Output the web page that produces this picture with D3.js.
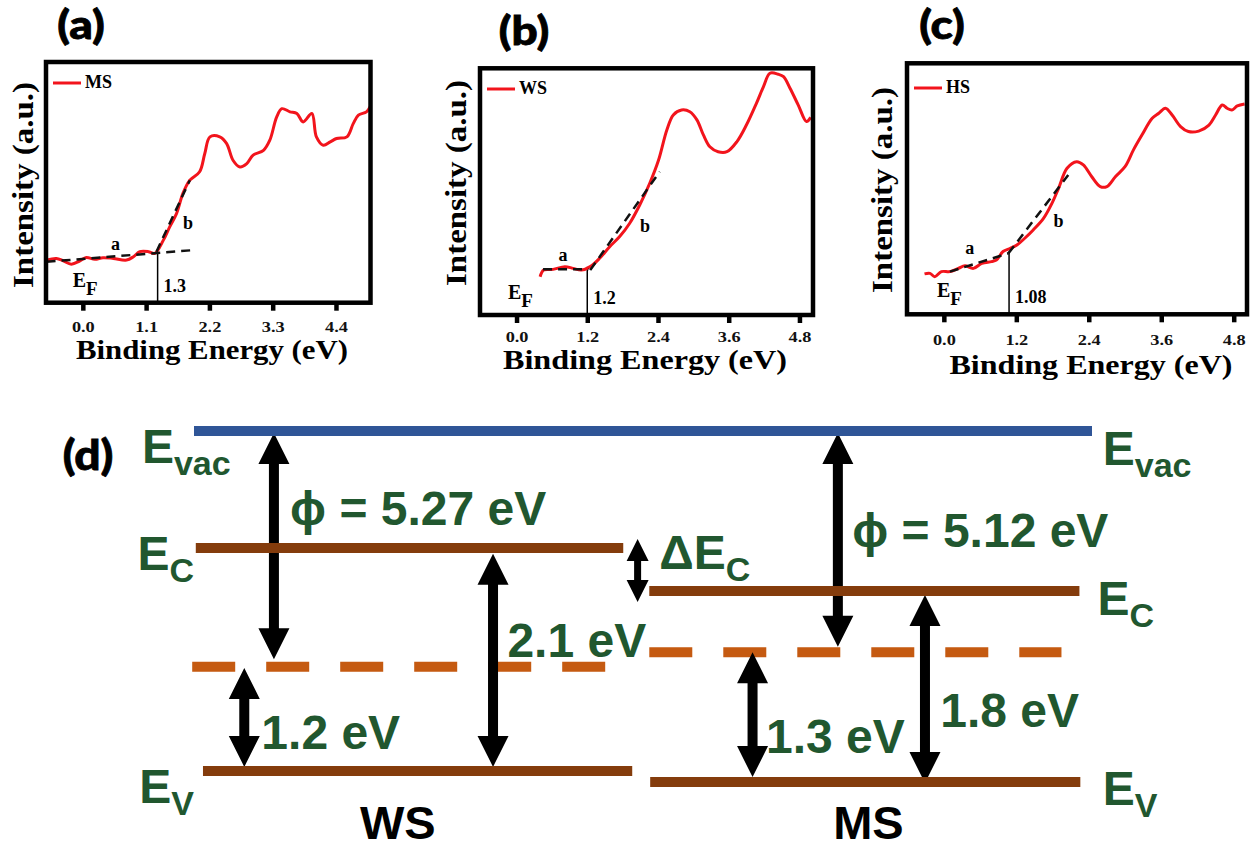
<!DOCTYPE html>
<html>
<head>
<meta charset="utf-8">
<script src="https://cdn.jsdelivr.net/npm/d3@7"></script>
<style>
body { margin: 0; background: #fff; }
svg { display: block; }
</style>
</head>
<body>
<svg id="fig" width="1257" height="849"></svg>
<script>
// ---- UPS spectra (energy in eV, intensity in a.u. 0-100 of the frame) ----
var ticksA = [0.0, 1.1, 2.2, 3.3, 4.4];
var ticksBC = [0.0, 1.2, 2.4, 3.6, 4.8];

var msEnergy = [-0.63,-0.46,-0.34,-0.20,-0.05,0.06,0.21,0.35,0.53,0.76,0.88,0.99,1.14,1.25,1.40,1.51,1.63,1.74,1.86,2.03,2.12,2.21,2.38,2.50,2.61,2.73,2.85,2.96,3.14,3.25,3.37,3.46,3.60,3.72,3.83,3.98,4.06,4.18,4.30,4.41,4.59,4.70,4.79,4.93,5.00];
var msIntensity = [17.7,18.4,17.4,16.0,17.4,18.8,18.0,18.7,18.4,17.7,19.1,21.2,21.2,20.5,26.0,31.5,37.1,45.4,50.9,54.4,62.0,68.9,68.9,66.1,59.2,56.4,57.8,61.3,63.3,67.5,77.2,80.6,79.3,78.6,75.1,78.6,68.9,65.4,66.8,68.2,68.9,74.4,77.9,79.3,81.6];

var wsEnergy = [0.40,0.46,0.62,0.82,0.96,1.10,1.25,1.41,1.58,1.75,1.92,2.09,2.26,2.41,2.55,2.66,2.80,2.94,3.06,3.17,3.28,3.42,3.57,3.74,3.90,4.07,4.19,4.30,4.44,4.53,4.64,4.78,4.92,4.99];
var wsIntensity = [15.5,18.2,18.5,19.6,18.9,18.2,19.6,23.0,27.7,31.8,37.2,44.6,53.4,62.8,75.0,81.1,83.1,82.4,79.1,73.0,68.2,66.2,66.2,70.3,77.0,85.8,92.6,98.0,97.6,96.6,91.9,85.1,78.4,80.1];

var hsEnergy = [-0.32,-0.23,-0.15,-0.04,0.10,0.24,0.35,0.49,0.63,0.79,0.87,0.98,1.10,1.21,1.34,1.48,1.65,1.79,1.90,2.04,2.20,2.31,2.45,2.59,2.70,2.84,3.00,3.14,3.28,3.45,3.56,3.67,3.78,3.92,4.05,4.22,4.39,4.50,4.61,4.69,4.77,4.86,4.98];
var hsIntensity = [16.1,16.3,15.0,17.0,17.0,18.3,19.3,18.3,20.3,21.0,21.6,25.0,26.3,27.6,30.3,33.6,38.2,44.2,50.2,58.2,60.8,59.5,54.8,50.9,50.9,54.8,58.8,65.5,71.4,78.1,80.1,82.1,79.4,74.8,72.8,73.0,75.4,79.4,83.4,82.1,81.4,83.0,83.8];

// linear fits (a = background, b = leading edge), [energy, intensity]
var msFitA = [[-0.63, 17.0], [1.95, 21.9]];
var msFitB = [[1.28, 21.2], [1.86, 50.9]];
var wsFitA = [[0.45, 18.5], [1.22, 18.5]];
var wsFitB = [[1.25, 18.2], [2.43, 58.1]];
var hsFitA = [[0.10, 17.0], [1.07, 24.3]];
var hsFitB = [[1.07, 24.3], [2.06, 55.5]];

var seriesNames = ["MS", "WS", "HS"];
var onsetValues = [1.3, 1.2, 1.08];
var onsetLabels = ["1.3", "1.2", "1.08"];
var onsetHeights = [21.0, 19.5, 25.0];

// ---- band diagram (schematic units: x 0-100 along the figure, y 0-100 down from E_vac) ----
var levelNames = ["E_vac", "WS E_C", "WS E_F", "WS E_V", "MS E_C", "MS E_F", "MS E_V"];
var levelDepth = [0, 33.3, 67.2, 96.9, 45.6, 63.0, 100];
var levelFrom = [0, 0.2, -0.2, 1.0, 50.7, 50.7, 50.8];
var levelTo = [100, 47.8, 45.9, 48.8, 98.6, 96.6, 98.7];
var levelKind = ["vac", "band", "fermi", "band", "band", "fermi", "band"];

var gapLabels = ["\u03D5 = 5.27 eV", "1.2 eV", "2.1 eV", "", "\u03D5 = 5.12 eV", "1.3 eV", "1.8 eV"];
var gapX = [8.9, 5.6, 33.3, 49.4, 71.7, 62.2, 81.4];
var gapTop = [0.6, 67.5, 35.0, 30.8, 0.6, 63.0, 46.7];
var gapBottom = [65.0, 95.7, 95.7, 48.7, 61.5, 98.6, 100.3];
var gapLabelX = [10.7, 7.5, 34.9, 51.8, 73.3, 63.7, 83.1];
var gapLabelY = [26.8, 90.6, 64.4, 39.3, 33.0, 91.7, 84.3];

var svg = d3.select("#fig");
svg.append("rect").attr("width", 1257).attr("height", 849).attr("fill", "#fff");

var serif = "'Liberation Serif', 'Times New Roman', serif";
var sans = "'Liberation Sans', Arial, sans-serif";
var labelFont = "Lato, 'Open Sans', sans-serif";
var green = "#21572f";

// ---------- spectra panels ----------
var panels = [
	{ tag: "(a)", tagX: 81, tagY: 39, left: 46, right: 370.5, top: 62, bottom: 302.7, dom: [-0.64, 5.0], ticks: ticksA, pad: 10,
		xLabelX: 212, xLabelY: 359, xLabelW: 272, yLabelX: 33, yLabelY: 185,
		energy: msEnergy, intensity: msIntensity, fitA: msFitA, fitB: msFitB,
		aPos: [0.57, 21.9], bPos: [1.83, 30.6], efPos: [-0.09, 6.5], legY: 83 },
	{ tag: "(b)", tagX: 524, tagY: 45, left: 480, right: 813, top: 68.3, bottom: 315, dom: [-0.62, 5.03], ticks: ticksBC, pad: 8,
		xLabelX: 645, xLabelY: 369, xLabelW: 284, yLabelX: 466, yLabelY: 183,
		energy: wsEnergy, intensity: wsIntensity, fitA: wsFitA, fitB: wsFitB,
		aPos: [0.79, 22.0], bPos: [2.18, 33.8], efPos: [-0.06, 6.5], legY: 89 },
	{ tag: "(c)", tagX: 942, tagY: 39, left: 907, right: 1247, top: 63.3, bottom: 314.3, dom: [-0.61, 5.02], ticks: ticksBC, pad: 12,
		xLabelX: 1091, xLabelY: 374, xLabelW: 283, yLabelX: 892, yLabelY: 190,
		energy: hsEnergy, intensity: hsIntensity, fitA: hsFitA, fitB: hsFitB,
		aPos: [0.43, 24.0], bPos: [1.90, 34.9], efPos: [-0.03, 6.9], legY: 88 }
];

panels.forEach(function(p, i) {
	var g = svg.append("g").attr("class", "panel");
	var x = d3.scaleLinear().domain(p.dom).range([p.left, p.right]);
	var y = d3.scaleLinear().domain([0, 100]).range([p.bottom, p.top]);

	var ax = g.append("g")
		.attr("transform", "translate(0," + p.bottom + ")")
		.call(d3.axisBottom(x).tickValues(p.ticks).tickFormat(d3.format(".1f")).tickSize(8).tickPadding(p.pad));
	ax.select(".domain").remove();
	ax.selectAll(".tick line").attr("stroke", "#000").attr("stroke-width", 4.5);
	ax.selectAll(".tick text")
		.attr("font-family", serif)
		.attr("font-weight", "bold")
		.attr("font-size", 15.5)
		.attr("fill", "#111")
		.attr("transform", "scale(1.18,1)");

	// onset marker
	g.append("line")
		.attr("x1", x(onsetValues[i])).attr("x2", x(onsetValues[i]))
		.attr("y1", y(onsetHeights[i])).attr("y2", y(0))
		.attr("stroke", "#000").attr("stroke-width", 1.5);

	var line = d3.line()
		.x(function(d) { return x(d[0]); })
		.y(function(d) { return y(d[1]); });

	var pts = p.energy.map(function(e, k) { return [e, p.intensity[k]]; });
	g.append("path")
		.datum(pts)
		.attr("d", line.curve(d3.curveCatmullRom.alpha(0.5)))
		.attr("fill", "none")
		.attr("stroke", "#f2141c")
		.attr("stroke-width", 3);

	[p.fitA, p.fitB].forEach(function(f) {
		g.append("path")
			.datum(f)
			.attr("d", d3.line().x(function(d) { return x(d[0]); }).y(function(d) { return y(d[1]); }))
			.attr("fill", "none")
			.attr("stroke", "#111")
			.attr("stroke-width", 2.5)
			.attr("stroke-dasharray", "9,6");
	});

	g.append("rect")
		.attr("x", p.left).attr("y", p.top)
		.attr("width", p.right - p.left).attr("height", p.bottom - p.top)
		.attr("fill", "none").attr("stroke", "#000").attr("stroke-width", 4.5);

	// legend
	g.append("line")
		.attr("x1", p.left + 7).attr("x2", p.left + 35)
		.attr("y1", p.legY).attr("y2", p.legY)
		.attr("stroke", "#f2141c").attr("stroke-width", 3);
	g.append("text")
		.attr("x", p.left + 39).attr("y", p.legY + 5)
		.attr("font-family", serif).attr("font-weight", "bold").attr("font-size", 18)
		.text(seriesNames[i]);

	var small = function(t, xx, yy, anchor) {
		return g.append("text")
			.attr("x", xx).attr("y", yy)
			.attr("text-anchor", anchor || "middle")
			.attr("font-family", serif).attr("font-weight", "bold").attr("font-size", 18)
			.text(t);
	};
	small("a", x(p.aPos[0]), y(p.aPos[1]));
	small("b", x(p.bPos[0]), y(p.bPos[1]));
	small(onsetLabels[i], x(onsetValues[i]) + 6, y(4.5), "start");

	var ef = g.append("text")
		.attr("x", x(p.efPos[0]) - 5).attr("y", y(p.efPos[1]))
		.attr("font-family", serif).attr("font-weight", "bold").attr("font-size", 20);
	ef.append("tspan").text("E");
	ef.append("tspan").attr("dy", 8).attr("font-size", 19).text("F");

	g.append("text")
		.attr("x", p.xLabelX).attr("y", p.xLabelY)
		.attr("text-anchor", "middle")
		.attr("font-family", serif).attr("font-weight", "bold").attr("font-size", 27.5)
		.attr("textLength", p.xLabelW).attr("lengthAdjust", "spacingAndGlyphs")
		.text("Binding Energy (eV)");
	g.append("text")
		.attr("transform", "translate(" + p.yLabelX + "," + p.yLabelY + ") rotate(-90)")
		.attr("text-anchor", "middle")
		.attr("font-family", serif).attr("font-weight", "bold").attr("font-size", 30)
		.attr("textLength", 206).attr("lengthAdjust", "spacingAndGlyphs")
		.text("Intensity (a.u.)");

	svg.append("text")
		.attr("transform", "translate(" + p.tagX + "," + p.tagY + ") scale(1.15,1)")
		.attr("text-anchor", "middle")
		.attr("font-family", labelFont).attr("font-weight", "900").attr("font-size", 40)
		.attr("stroke", "#000").attr("stroke-width", 0.8)
		.text(p.tag);
});

// ---------- band diagram ----------
var dx = d3.scaleLinear().domain([0, 100]).range([194, 1092]);
var dy = d3.scaleLinear().domain([0, 100]).range([431, 782]);
var levelColor = { vac: "#2f5597", band: "#843c0c", fermi: "#c55a11" };

var d = svg.append("g").attr("class", "diagram");

// dashed Fermi levels first
levelNames.forEach(function(n, i) {
	if (levelKind[i] !== "fermi") return;
	d.append("line")
		.attr("x1", dx(levelFrom[i])).attr("x2", dx(levelTo[i]))
		.attr("y1", dy(levelDepth[i])).attr("y2", dy(levelDepth[i]))
		.attr("stroke", levelColor.fermi).attr("stroke-width", 10)
		.attr("stroke-dasharray", "43,31");
});

function doubleArrow(xc, y1, y2, w, hw, hl) {
	var p = d3.path();
	p.moveTo(xc, y1);
	p.lineTo(xc + hw, y1 + hl);
	p.lineTo(xc + w / 2, y1 + hl);
	p.lineTo(xc + w / 2, y2 - hl);
	p.lineTo(xc + hw, y2 - hl);
	p.lineTo(xc, y2);
	p.lineTo(xc - hw, y2 - hl);
	p.lineTo(xc - w / 2, y2 - hl);
	p.lineTo(xc - w / 2, y1 + hl);
	p.lineTo(xc - hw, y1 + hl);
	p.closePath();
	return p.toString();
}

gapX.forEach(function(gx, i) {
	var isSmall = gapLabels[i] === "";
	d.append("path")
		.attr("d", doubleArrow(dx(gx), dy(gapTop[i]), dy(gapBottom[i]),
			isSmall ? 7 : 10, isSmall ? 11 : 15.5, isSmall ? 22 : 31))
		.attr("fill", "#000");
});

// solid levels on top
levelNames.forEach(function(n, i) {
	if (levelKind[i] === "fermi") return;
	d.append("line")
		.attr("x1", dx(levelFrom[i])).attr("x2", dx(levelTo[i]))
		.attr("y1", dy(levelDepth[i])).attr("y2", dy(levelDepth[i]))
		.attr("stroke", levelColor[levelKind[i]]).attr("stroke-width", 10);
});

// gap values
gapLabels.forEach(function(t, i) {
	var txt = d.append("text")
		.attr("x", dx(gapLabelX[i])).attr("y", dy(gapLabelY[i]))
		.attr("font-family", sans).attr("font-weight", "bold").attr("font-size", 48)
		.attr("fill", green);
	if (t === "") {
		txt.append("tspan").text("\u0394E");
		txt.append("tspan").attr("dy", 12).attr("font-size", 34).text("C");
	} else {
		txt.text(t);
	}
});

// level names with subscripts
var levelTags = [
	{ sub: "vac", x: -5.8, y: 9.1 }, { sub: "C", x: -6.3, y: 39.6 }, { sub: "V", x: -6.1, y: 106.0 },
	{ sub: "vac", x: 101.2, y: 9.7 }, { sub: "C", x: 100.6, y: 52.4 }, { sub: "V", x: 101.2, y: 106.6 }
];
levelTags.forEach(function(l) {
	var t = d.append("text")
		.attr("x", dx(l.x)).attr("y", dy(l.y))
		.attr("font-family", sans).attr("font-weight", "bold").attr("font-size", 48)
		.attr("fill", green);
	t.append("tspan").text("E");
	t.append("tspan").attr("dy", 12).attr("font-size", 34).text(l.sub);
});

var materials = ["WS", "MS"];
var materialX = [22.7, 75.1];
var materialY = [116.3, 116.3];
materials.forEach(function(m, i) {
	d.append("text")
		.attr("x", dx(materialX[i])).attr("y", dy(materialY[i]))
		.attr("text-anchor", "middle")
		.attr("font-family", sans).attr("font-weight", "bold").attr("font-size", 47)
		.attr("fill", "#000")
		.text(m);
});

svg.append("text")
	.attr("transform", "translate(88,470) scale(1.1,1)")
	.attr("text-anchor", "middle")
	.attr("font-family", labelFont).attr("font-weight", "900").attr("font-size", 42)
	.attr("stroke", "#000").attr("stroke-width", 0.8)
	.text("(d)");
</script>
</body>
</html>
